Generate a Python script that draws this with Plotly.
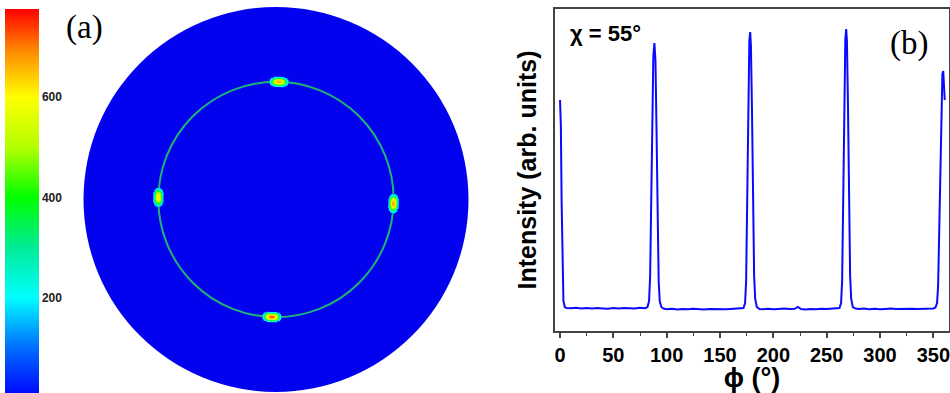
import plotly.graph_objects as go

# ---------------- data ----------------
# panel (b): phi scan at chi = 55 deg (arbitrary intensity units)
PHI = [0, 0.8, 1.5, 2.3, 3.2, 4.5, 6,
       10, 15, 20, 25, 30, 35, 40, 45, 50, 55, 60, 65, 70, 75, 80,
       82, 83.5, 84.5, 85.5, 86.5, 87.5, 88.5, 89.5, 90.5, 91.5, 92.5, 93.5, 95, 97,
       100, 105, 110, 115, 120, 125, 130, 135, 140, 145, 150, 155, 160, 165, 170,
       172, 173.5, 174.5, 175.5, 176.5, 177.5, 178.3, 179, 180, 181, 182, 183, 184.5, 187,
       190, 195, 200, 205, 210, 215, 220, 223, 226, 230, 235, 240, 245, 250, 255, 260,
       262, 263.5, 264.5, 265.5, 266.5, 267.5, 268.3, 269, 270, 271, 272, 273, 274.5, 277,
       280, 285, 290, 295, 300, 305, 310, 315, 320, 325, 330, 335, 340, 345, 350,
       352, 353.5, 354.5, 355.5, 356.5, 357.5, 358.5, 359.3, 360, 360.7]
INTENSITY = [231, 205, 130, 55, 30, 24, 23,
             22.8, 23.2, 22.5, 22.9, 22.4, 23.0, 22.6, 22.3, 22.9, 22.5, 23.1, 22.7, 22.4, 23.3, 22.8,
             24, 30, 55, 130, 220, 275, 288, 270, 200, 110, 50, 30, 24, 22.5,
             21.8, 22.2, 21.6, 22.0, 21.7, 22.3, 21.9, 21.5, 22.1, 21.8, 22.2, 21.7, 22.0, 22.4, 22.1,
             23, 28, 50, 130, 230, 290, 299, 285, 220, 120, 55, 32, 24, 22,
             21.8, 22.3, 21.7, 22.0, 22.4, 21.9, 22.2, 24.0, 22.0, 21.6, 22.1, 21.8, 22.3, 21.9, 22.2, 22.6,
             23, 28, 50, 130, 235, 292, 302, 290, 225, 125, 55, 32, 24, 22.5,
             22.0, 22.4, 21.8, 22.2, 21.7, 22.1, 22.5, 21.9, 22.2, 21.8, 22.3, 22.0, 22.4, 22.1, 22.6,
             23.5, 28, 45, 100, 180, 235, 257, 260, 250, 231]
X_TICKS = [0, 50, 100, 150, 200, 250, 300, 350]

# panel (a): pole figure at chi = 55 deg
RING_CHI = 55
SPOT_PHI = [88.5, 179, 268, 358]
SPOT_CHI = [55, 55, 55, 55]
SPOT_PEAK = [650, 610, 710, 660]
CBAR_TICKS = [200, 400, 600]

# ---------------- styling ----------------
FONT = "Liberation Sans, Arial, sans-serif"
SERIF = "Liberation Serif, Times New Roman, serif"
CMAX = 776
colorscale = [
    [0.00, "rgb(0,0,255)"],
    [0.13, "rgb(0,110,255)"],
    [0.258, "rgb(0,255,255)"],
    [0.387, "rgb(0,235,150)"],
    [0.515, "rgb(0,255,0)"],
    [0.644, "rgb(180,255,0)"],
    [0.773, "rgb(255,255,0)"],
    [0.89, "rgb(255,140,0)"],
    [1.00, "rgb(255,0,0)"],
]

fig = go.Figure()

# spot layers (outer -> inner): fraction of peak, full theta width (deg), full radial thickness (chi)
layers = [
    (0.30, 9.0, 4.8),
    (0.45, 7.8, 4.0),
    (0.68, 6.4, 3.2),
    (0.86, 5.0, 2.4),
    (1.00, 2.8, 1.3),
]
ellipse_parts = [(1.0, 0.55), (0.85, 0.82), (0.55, 1.0)]
for frac, tw_full, th_full in layers:
    for fw, ft in ellipse_parts:
        tw, th = tw_full * fw, th_full * ft
        fig.add_trace(go.Barpolar(
            theta=SPOT_PHI,
            r=[th] * len(SPOT_PHI),
            base=[c - th / 2 for c in SPOT_CHI],
            width=[tw] * len(SPOT_PHI),
            marker=dict(color=[p * frac for p in SPOT_PEAK], coloraxis="coloraxis",
                        line=dict(width=0)),
            subplot="polar", showlegend=False, hoverinfo="skip",
        ))

fig.add_trace(go.Scatter(
    x=PHI, y=INTENSITY, mode="lines",
    line=dict(color="rgb(10,10,255)", width=2),
    xaxis="x", yaxis="y", showlegend=False,
))

fig.update_layout(
    width=950, height=393,
    margin=dict(l=0, r=0, t=0, b=0, autoexpand=False),
    paper_bgcolor="white", plot_bgcolor="white",
    font=dict(family=FONT, color="black"),
    coloraxis=dict(
        colorscale=colorscale, cmin=0, cmax=CMAX,
        colorbar=dict(
            x=5 / 950, xanchor="left", xpad=0,
            y=1 - 9 / 393, yanchor="top", ypad=0,
            len=389 / 393, lenmode="fraction",
            thickness=34, outlinewidth=0,
            tickvals=CBAR_TICKS, ticks="", ticklen=0,
            tickfont=dict(family=FONT, size=12, color="#222", weight="bold"),
        ),
    ),
    polar=dict(
        domain=dict(x=[83 / 950, 469 / 950], y=[1 - 392 / 393, 1 - 7 / 393]),
        bgcolor="rgb(2,2,238)",
        hole=0,
        radialaxis=dict(range=[0, 90], showticklabels=False, ticks="", showline=False,
                        tickvals=[RING_CHI], showgrid=True,
                        gridcolor="rgb(30,180,120)", gridwidth=1.5),
        angularaxis=dict(showgrid=False, showticklabels=False, ticks="", showline=False,
                         direction="counterclockwise", rotation=0),
    ),
    xaxis=dict(
        domain=[555 / 950, 949 / 950], range=[-4.7, 364.7],
        showline=True, mirror=True, linecolor="#444", linewidth=1.5,
        showgrid=False, zeroline=False,
        tickvals=X_TICKS, ticks="outside", ticklen=5, tickwidth=1.5, tickcolor="#444",
        minor=dict(dtick=25, tick0=0, ticks="outside", ticklen=3, tickwidth=1.2, tickcolor="#444"),
        tickfont=dict(family=FONT, size=20, weight="bold"),
        ticklabeloverflow="allow",
        title=dict(text="ϕ (°)", font=dict(family=FONT, size=27, weight="bold"), standoff=0),
    ),
    yaxis=dict(
        domain=[1 - 331 / 393, 1 - 9 / 393], range=[0, 322],
        showline=True, mirror=True, linecolor="#444", linewidth=1.5,
        showgrid=False, zeroline=False, showticklabels=False, ticks="",
        title=dict(text="Intensity (arb. units)", font=dict(family=FONT, size=25, weight="bold"),
                   standoff=10),
    ),
    annotations=[
        dict(text="(a)", x=84 / 950, y=1 - 27 / 393, xref="paper", yref="paper",
             xanchor="center", yanchor="middle", showarrow=False,
             font=dict(family=SERIF, size=33, color="black")),
        dict(text="(b)", x=909 / 950, y=1 - 43 / 393, xref="paper", yref="paper",
             xanchor="center", yanchor="middle", showarrow=False,
             font=dict(family=SERIF, size=33, color="black")),
        dict(text="χ = 55°", x=568 / 950, y=1 - 33 / 393, xref="paper", yref="paper",
             xanchor="left", yanchor="middle", showarrow=False,
             font=dict(family=FONT, size=22, color="black", weight="bold")),
    ],
)

fig.write_html("out.html", config={"displayModeBar": False},
               post_script="document.body.style.margin='0px';document.body.style.overflow='hidden';")
